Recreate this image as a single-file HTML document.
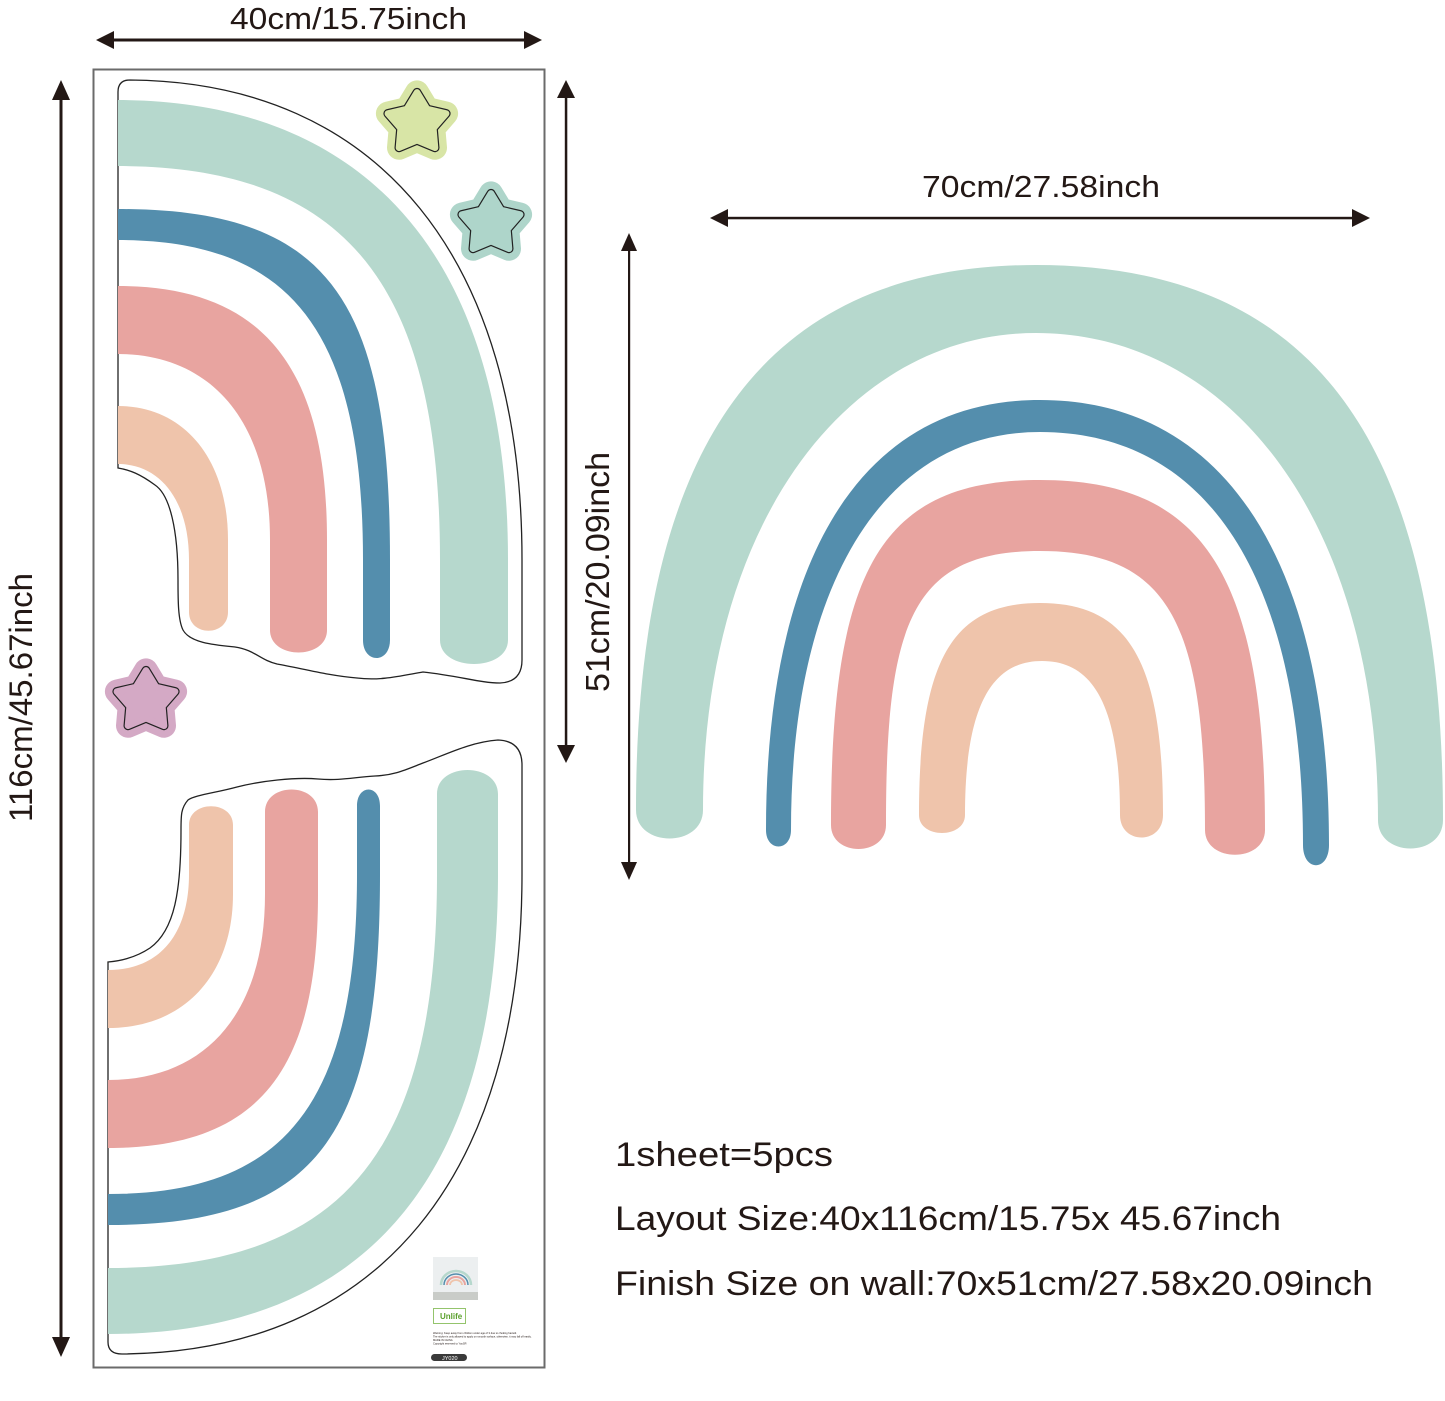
<!DOCTYPE html>
<html><head><meta charset="utf-8"><style>
html,body{margin:0;padding:0;background:#fff;}
svg{display:block;}
text{font-family:"Liberation Sans","DejaVu Sans",sans-serif;fill:#231815;}
</style></head><body>
<svg width="1445" height="1401" viewBox="0 0 1445 1401" xmlns="http://www.w3.org/2000/svg">
<defs>
<polygon id="st" points="0,-30.6 10.1,-13.9 29.1,-9.45 16.3,5.3 18.0,24.75 0,17.2 -18.0,24.75 -16.3,5.3 -29.1,-9.45 -10.1,-13.9"/>
</defs>
<rect width="1445" height="1401" fill="#fff"/>

<!-- layout sheet -->
<rect x="93.5" y="69.5" width="451" height="1298" fill="none" stroke="#6b6b6b" stroke-width="2"/>

<!-- top sticker outline -->
<path d="M130,80 C380,82 522,260 522,560 L522,660 Q522,682 500,683 C480,683 460,676 423,672 C400,676 380,681 357,678 C330,676 300,668 277,664 C260,660 255,650 235,647 C215,645 190,643 183,630 C178,620 178,600 178,580 C178,530 170,495 155,485 C140,474 130,470 118,468 L118,92 Q118,80 130,80 Z" fill="#fff" stroke="#222" stroke-width="1.3"/>
<path d="M118,100 C350,100 508,240 508,560 L508,640 C508,672 440,672 440,640 L440,560 C440,290 350,166 118,166 Z" fill="#b6d8cd"/>
<path d="M118,209 C330,209 390,300 390,560 L390,640 C390,664 363,664 363,640 L363,560 C363,330 290,240 118,240 Z" fill="#548ead"/>
<path d="M118,286 C265,286 327,370 327,540 L327,630 C327,660 270,660 270,630 L270,540 C270,420 210,354 118,354 Z" fill="#e8a4a0"/>
<path d="M118,406 C185,406 228,460 228,540 L228,612 C228,637 189,637 189,612 L189,560 C189,500 160,464 118,464 Z" fill="#efc4ab"/>

<!-- bottom sticker outline -->
<path d="M108,1342 Q108,1354 122,1354 C380,1352 522,1174 522,874 L522,765 Q522,741 498,740 C470,742 445,755 423,763 C405,770 395,775 375,776 C355,777 340,781 318,779 C295,777 260,781 237,787 C215,793 195,795 188,800 C181,808 181,815 181,830 C181,890 175,930 150,948 C135,958 120,961 108,962 Z" fill="#fff" stroke="#222" stroke-width="1.3"/>
<path d="M108,1334 C350,1334 498,1194 498,874 L498,794 C498,762 437,762 437,794 L437,874 C437,1144 350,1268 108,1268 Z" fill="#b6d8cd"/>
<path d="M108,1225 C320,1225 380,1134 380,874 L380,806 C380,784 357,784 357,806 L357,874 C357,1104 285,1194 108,1194 Z" fill="#548ead"/>
<path d="M108,1148 C265,1148 318,1064 318,894 L318,812 C318,782 265,782 265,812 L265,894 C265,1014 205,1080 108,1080 Z" fill="#e8a4a0"/>
<path d="M108,1028 C185,1028 233,974 233,894 L233,825 C233,800 189,800 189,825 L189,874 C189,934 160,970 108,970 Z" fill="#efc4ab"/>

<!-- stars -->
<g transform="translate(417,123)">
<use href="#st" fill="#d8e5a6" stroke="#d8e5a6" stroke-width="24" stroke-linejoin="round"/>
<use href="#st" fill="none" stroke="#222" stroke-width="9" stroke-linejoin="round"/>
<use href="#st" fill="#d8e5a6" stroke="#d8e5a6" stroke-width="6.6" stroke-linejoin="round"/>
</g>
<g transform="translate(491,224)">
<use href="#st" fill="#aed5ca" stroke="#aed5ca" stroke-width="24" stroke-linejoin="round"/>
<use href="#st" fill="none" stroke="#222" stroke-width="9" stroke-linejoin="round"/>
<use href="#st" fill="#aed5ca" stroke="#aed5ca" stroke-width="6.6" stroke-linejoin="round"/>
</g>
<g transform="translate(146,701)">
<use href="#st" fill="#d4a9c5" stroke="#d4a9c5" stroke-width="24" stroke-linejoin="round"/>
<use href="#st" fill="none" stroke="#222" stroke-width="9" stroke-linejoin="round"/>
<use href="#st" fill="#d4a9c5" stroke="#d4a9c5" stroke-width="6.6" stroke-linejoin="round"/>
</g>

<!-- small label -->
<rect x="433" y="1257" width="45" height="43" fill="#eceff0"/>
<path d="M441,1285 A15,14 0 0 1 471,1285" fill="none" stroke="#b6d8cd" stroke-width="2.5"/>
<path d="M444,1285 A12,11 0 0 1 468,1285" fill="none" stroke="#548ead" stroke-width="1.5"/>
<path d="M447,1285 A9,8 0 0 1 465,1285" fill="none" stroke="#e8a4a0" stroke-width="2"/>
<path d="M450,1285 A6,5 0 0 1 462,1285" fill="none" stroke="#efc4ab" stroke-width="1.8"/>
<rect x="433" y="1292" width="45" height="8" fill="#c9ccc8"/>
<rect x="433.5" y="1308.5" width="32" height="15" fill="#fff" stroke="#7ab648" stroke-width="0.8"/>
<text x="440" y="1319" style="font-size:8px;font-weight:bold;fill:#5aa02c">Unlife</text>
<text x="433" y="1334" style="font-size:2.6px">Warning: Keep away from children under age of 3 due to choking hazard.</text>
<text x="433" y="1337.5" style="font-size:2.6px">The sticker is only allowed to apply on smooth surface, otherwise, it may fall off easily.</text>
<text x="433" y="1341" style="font-size:2.6px">MADE IN CHINA</text>
<text x="433" y="1344.5" style="font-size:2.6px">Copyright reserved to YouSR</text>
<rect x="431" y="1354" width="36" height="7" rx="3.5" fill="#3a3a3a"/>
<text x="442" y="1360" style="font-size:5.5px;fill:#fff">JY020</text>

<!-- right rainbow -->
<path d="M636,810 C636,450 760,265 1036,265 C1320,265 1443,450 1443,820 C1443,858 1378,858 1378,820 C1378,520 1230,333 1036,333 C850,333 703,520 703,810 C703,848 636,848 636,810 Z" fill="#b6d8cd"/>
<path d="M766,830 C766,560 860,400 1040,400 C1230,400 1329,570 1329,845 C1329,872 1303,872 1303,845 C1303,590 1215,432 1040,432 C880,432 791,590 791,830 C791,852 766,852 766,830 Z" fill="#548ead"/>
<path d="M831,825 C831,570 880,480 1040,480 C1200,480 1265,570 1265,830 C1265,863 1205,863 1205,830 C1205,625 1170,551 1040,551 C910,551 886,625 886,825 C886,857 831,857 831,825 Z" fill="#e8a4a0"/>
<path d="M919,815 C919,660 952,603 1040,603 C1128,603 1163,660 1163,815 C1163,845 1120,845 1120,815 C1120,700 1090,661 1042,661 C995,661 965,700 965,815 C965,839 919,839 919,815 Z" fill="#efc4ab"/>

<!-- arrows -->
<g fill="#231815" stroke="none">
<rect x="110" y="38.5" width="418" height="3"/>
<polygon points="96,40 114,31 114,49"/>
<polygon points="542,40 524,31 524,49"/>

<rect x="59.5" y="96" width="3" height="1246"/>
<polygon points="61,80 52,100 70,100"/>
<polygon points="61,1357 52,1337 70,1337"/>

<rect x="564.8" y="96" width="2.5" height="652"/>
<polygon points="566,80 557,98 575,98"/>
<polygon points="566,763 557,745 575,745"/>

<rect x="726" y="216.8" width="628" height="2.5"/>
<polygon points="710,218 728,209 728,227"/>
<polygon points="1370,218 1352,209 1352,227"/>

<rect x="628" y="248" width="2.2" height="617"/>
<polygon points="629,233 621,251 637,251"/>
<polygon points="629,880 621,862 637,862"/>
</g>

<!-- labels -->
<text x="230" y="29" textLength="237" lengthAdjust="spacingAndGlyphs" style="font-size:31px">40cm/15.75inch</text>
<text x="922" y="197" textLength="238" lengthAdjust="spacingAndGlyphs" style="font-size:31px">70cm/27.58inch</text>
<text transform="translate(32,822) rotate(-90)" x="0" y="0" textLength="249" lengthAdjust="spacingAndGlyphs" style="font-size:32px">116cm/45.67inch</text>
<text transform="translate(609,692) rotate(-90)" x="0" y="0" textLength="240" lengthAdjust="spacingAndGlyphs" style="font-size:33px">51cm/20.09inch</text>

<text x="615" y="1166" textLength="218" lengthAdjust="spacingAndGlyphs" style="font-size:34px">1sheet=5pcs</text>
<text x="615" y="1230" textLength="666" lengthAdjust="spacingAndGlyphs" style="font-size:34px">Layout Size:40x116cm/15.75x 45.67inch</text>
<text x="615" y="1295" textLength="758" lengthAdjust="spacingAndGlyphs" style="font-size:34px">Finish Size on wall:70x51cm/27.58x20.09inch</text>
</svg>
</body></html>
